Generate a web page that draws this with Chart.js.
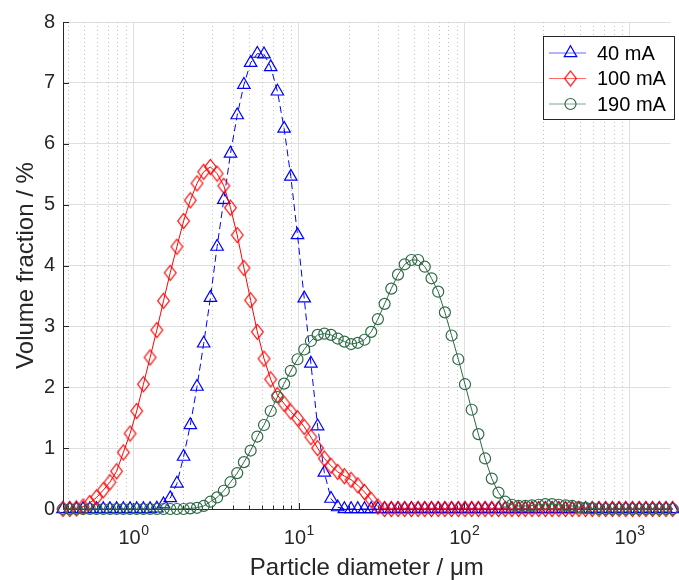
<!DOCTYPE html>
<html lang="en">
<head>
<meta charset="UTF-8">
<title>Particle size distribution</title>
<script src="https://cdn.jsdelivr.net/npm/chart.js"></script>
<style>
  html, body { margin: 0; padding: 0; background: #fff; overflow: hidden; }
  #wrap { width: 679px; height: 580px; }
</style>
</head>
<body>
<div id="wrap"><canvas id="psd" width="679" height="580"></canvas></div>
<script>
  // channel diameters (um)
  const diameters = [
    0.375, 0.412, 0.452, 0.496, 0.545, 0.598, 0.657, 0.721, 0.791, 0.869,
    0.954, 1.047, 1.149, 1.261, 1.385, 1.520, 1.669, 1.832, 2.010, 2.207,
    2.423, 2.660, 2.920, 3.205, 3.519, 3.862, 4.241, 4.656, 5.111, 5.611,
    6.159, 6.761, 7.422, 8.148, 8.944, 9.819, 10.78, 11.83, 12.99, 14.26,
    15.65, 17.18, 18.86, 20.71, 22.73, 24.95, 27.39, 30.07, 33.01, 36.24,
    39.78, 43.67, 47.94, 52.63, 57.77, 63.42, 69.62, 76.43, 83.90, 92.10,
    101.1, 111.0, 121.8, 133.7, 146.8, 161.2, 176.8, 194.2, 213.2, 234.0,
    256.9, 282.1, 309.6, 339.9, 373.1, 409.6, 449.7, 493.6, 541.9, 594.9,
    653.0, 716.9, 786.9, 863.9, 948.3, 1041, 1143, 1255, 1377, 1512,
    1660, 1822, 2000
  ];

  // volume fraction (%) per channel
  const vol40 = [
    0, 0, 0, 0, 0, 0, 0, 0, 0, 0,
    0, 0, 0, 0, 0.01, 0.08, 0.18, 0.42, 0.86, 1.38,
    2.01, 2.72, 3.47, 4.31, 5.08, 5.84, 6.47, 6.97, 7.33, 7.48,
    7.47, 7.26, 6.86, 6.25, 5.46, 4.50, 3.46, 2.39, 1.36, 0.60,
    0.17, 0.03, 0, 0, 0, 0, 0, 0, 0, 0,
    0, 0, 0, 0, 0, 0, 0, 0, 0, 0,
    0, 0, 0, 0, 0, 0, 0, 0, 0, 0,
    0, 0, 0, 0, 0, 0, 0, 0, 0, 0,
    0, 0, 0, 0, 0, 0, 0, 0, 0, 0,
    0, 0, 0
  ];
  const vol100 = [
    0, 0, 0.01, 0.04, 0.10, 0.19, 0.31, 0.44, 0.62, 0.93,
    1.24, 1.61, 2.05, 2.49, 2.94, 3.42, 3.88, 4.31, 4.73, 5.07,
    5.35, 5.54, 5.62, 5.51, 5.31, 4.95, 4.50, 3.96, 3.43, 2.91,
    2.47, 2.13, 1.87, 1.73, 1.60, 1.49, 1.35, 1.18, 1.00, 0.83,
    0.71, 0.61, 0.54, 0.48, 0.39, 0.28, 0.15, 0.04, 0, 0,
    0, 0, 0, 0, 0, 0, 0, 0, 0, 0,
    0, 0, 0, 0, 0, 0, 0, 0, 0, 0,
    0, 0, 0, 0, 0, 0, 0, 0, 0, 0,
    0, 0, 0, 0, 0, 0, 0, 0, 0, 0,
    0, 0, 0
  ];
  const vol190 = [
    0, 0, 0, 0, 0, 0, 0, 0, 0, 0,
    0, 0, 0, 0, 0, 0, 0, 0, 0, 0.01,
    0.02, 0.05, 0.12, 0.19, 0.30, 0.44, 0.59, 0.77, 0.96, 1.19,
    1.38, 1.61, 1.84, 2.06, 2.27, 2.46, 2.62, 2.76, 2.86, 2.88,
    2.86, 2.80, 2.75, 2.71, 2.73, 2.78, 2.91, 3.12, 3.37, 3.62,
    3.85, 4.02, 4.09, 4.09, 3.98, 3.79, 3.57, 3.23, 2.85, 2.46,
    2.05, 1.63, 1.23, 0.83, 0.50, 0.27, 0.12, 0.07, 0.05, 0.05,
    0.06, 0.07, 0.08, 0.08, 0.07, 0.06, 0.05, 0.03, 0.02, 0.01,
    0, 0, 0, 0, 0, 0, 0, 0, 0, 0,
    0, 0, 0
  ];

  const seriesLabels = ['40 mA', '100 mA', '190 mA'];
  const xDecades = [0.1, 1, 10, 100, 1000];
  const xMin = 0.375, xMax = 1770;
  const yMin = 0, yMax = 8;

  const textColor = '#262626';
  const fontFamily = '"Liberation Sans", Arial, Helvetica, sans-serif';
  const blue = '#0000ff', red = '#ff0000', green = '#2f6a46';

  const isDecade = v => Math.abs(Math.log10(v) - Math.round(Math.log10(v))) < 1e-6;

  // diamond marker a bit taller than wide, like the original
  function diamondMarker(color) {
    const c = document.createElement('canvas');
    c.width = 15; c.height = 18;
    const g = c.getContext('2d');
    g.strokeStyle = color;
    g.lineWidth = 1.2;
    g.beginPath();
    g.moveTo(7.5, 1.5);
    g.lineTo(13.3, 9);
    g.lineTo(7.5, 16.5);
    g.lineTo(1.7, 9);
    g.closePath();
    g.stroke();
    return c;
  }
  const diamond = diamondMarker(red);

  const toPoints = vals => diameters.map((d, i) => ({ x: d, y: vals[i] }));

  function drawLegendMarker(ctx, ds, x, y) {
    ctx.save();
    ctx.strokeStyle = ds.pointBorderColor;
    ctx.lineWidth = ds.pointBorderWidth;
    ctx.beginPath();
    if (ds.pointStyle === 'triangle') {
      const r = ds.pointRadius;
      for (let k = 0; k < 3; k++) {
        const a = k * 2 * Math.PI / 3;
        const px = x + Math.sin(a) * r, py = y - Math.cos(a) * r;
        k === 0 ? ctx.moveTo(px, py) : ctx.lineTo(px, py);
      }
      ctx.closePath();
      ctx.stroke();
    } else if (ds.pointStyle === 'circle') {
      ctx.arc(x, y, ds.pointRadius, 0, Math.PI * 2);
      ctx.stroke();
    } else {
      const img = ds.pointStyle;
      ctx.drawImage(img, x - img.width / 2, y - img.height / 2);
    }
    ctx.restore();
  }

  const axisDecor = {
    id: 'axisDecor',
    beforeDatasetsDraw(chart) {
      const { ctx, chartArea: a, scales: { x, y } } = chart;
      ctx.save();
      // dotted minor grid
      ctx.strokeStyle = '#bcbcbc';
      ctx.lineWidth = 1;
      ctx.setLineDash([1, 3]);
      x.ticks.forEach(t => {
        if (isDecade(t.value)) return;
        const px = Math.round(x.getPixelForValue(t.value)) + 0.5;
        ctx.beginPath();
        ctx.moveTo(px, a.top);
        ctx.lineTo(px, a.bottom);
        ctx.stroke();
      });
      ctx.setLineDash([]);
      // inward tick marks
      ctx.strokeStyle = textColor;
      x.ticks.forEach(t => {
        const px = Math.round(x.getPixelForValue(t.value)) + 0.5;
        const len = isDecade(t.value) ? 6 : 3.5;
        ctx.beginPath();
        ctx.moveTo(px, a.bottom);
        ctx.lineTo(px, a.bottom - len);
        ctx.stroke();
      });
      y.ticks.forEach(t => {
        const py = Math.round(y.getPixelForValue(t.value)) + 0.5;
        ctx.beginPath();
        ctx.moveTo(a.left, py);
        ctx.lineTo(a.left + 6, py);
        ctx.stroke();
      });
      // decade labels 10^n with a raised exponent
      ctx.fillStyle = textColor;
      ctx.textBaseline = 'alphabetic';
      ctx.textAlign = 'left';
      x.ticks.forEach(t => {
        if (!isDecade(t.value)) return;
        const px = x.getPixelForValue(t.value);
        const exp = String(Math.round(Math.log10(t.value)));
        ctx.font = '20px ' + fontFamily;
        const wBase = ctx.measureText('10').width;
        ctx.font = '14px ' + fontFamily;
        const wExp = ctx.measureText(exp).width;
        const x0 = px - (wBase + wExp) / 2;
        ctx.font = '20px ' + fontFamily;
        ctx.fillText('10', x0, a.bottom + 35);
        ctx.font = '14px ' + fontFamily;
        ctx.fillText(exp, x0 + wBase + 0.5, a.bottom + 26);
      });
      ctx.restore();
    },
    afterDraw(chart) {
      const { ctx } = chart;
      const box = { x: 543.5, y: 36.5, w: 131, h: 83 };
      ctx.save();
      ctx.fillStyle = '#fff';
      ctx.fillRect(box.x, box.y, box.w, box.h);
      ctx.strokeStyle = textColor;
      ctx.lineWidth = 1;
      ctx.strokeRect(box.x, box.y, box.w, box.h);
      ctx.font = '20px ' + fontFamily;
      ctx.textBaseline = 'middle';
      ctx.textAlign = 'left';
      chart.data.datasets.forEach((ds, i) => {
        const cy = 53 + i * 25.5;
        ctx.save();
        ctx.globalAlpha = 0.6;
        ctx.strokeStyle = ds.borderColor;
        ctx.lineWidth = 1;
        ctx.beginPath();
        ctx.moveTo(549, cy);
        ctx.lineTo(586, cy);
        ctx.stroke();
        ctx.restore();
        drawLegendMarker(ctx, ds, 570.5, cy);
        ctx.fillStyle = '#000';
        ctx.fillText(ds.label, 597, cy + 1);
      });
      ctx.restore();
    }
  };

  new Chart(document.getElementById('psd'), {
    type: 'line',
    data: {
      datasets: [
        {
          label: seriesLabels[0],
          data: toPoints(vol40),
          borderColor: blue,
          borderWidth: 1,
          borderDash: [7, 4],
          pointStyle: 'triangle',
          pointRadius: 7.2,
          pointBorderWidth: 1.2,
          pointBorderColor: blue,
          pointBackgroundColor: 'rgba(0,0,0,0)',
          order: 3,
          clip: false
        },
        {
          label: seriesLabels[1],
          data: toPoints(vol100),
          borderColor: red,
          borderWidth: 1,
          pointStyle: diamond,
          pointRadius: 6.5,
          pointBorderWidth: 1.2,
          pointBorderColor: red,
          pointBackgroundColor: 'rgba(0,0,0,0)',
          order: 2,
          clip: false
        },
        {
          label: seriesLabels[2],
          data: toPoints(vol190),
          borderColor: green,
          borderWidth: 1,
          pointStyle: 'circle',
          pointRadius: 5.5,
          pointBorderWidth: 1.2,
          pointBorderColor: green,
          pointBackgroundColor: 'rgba(0,0,0,0)',
          order: 1,
          clip: false
        }
      ]
    },
    options: {
      responsive: false,
      animation: false,
      devicePixelRatio: 1,
      layout: { padding: { top: 22, right: 0, left: 0, bottom: 0 } },
      plugins: { legend: { display: false }, tooltip: { enabled: false } },
      elements: { line: { tension: 0 } },
      scales: {
        x: {
          type: 'logarithmic',
          min: xMin,
          max: xMax,
          afterFit(scale) { scale.height = 71; },
          afterBuildTicks(scale) {
            const t = [];
            xDecades.forEach(d => {
              for (let m = 1; m <= 9; m++) {
                const v = +(d * m).toPrecision(6);
                if (v >= scale.min && v <= scale.max) t.push({ value: v });
              }
            });
            scale.ticks = t;
          },
          ticks: {
            autoSkip: false,
            maxRotation: 0,
            callback: () => ''
          },
          grid: {
            drawTicks: false,
            color: c => (c.tick && isDecade(c.tick.value)) ? '#dfdfdf' : 'rgba(0,0,0,0)',
            lineWidth: 1
          },
          border: { display: true, color: textColor, width: 1 },
          title: {
            display: true,
            text: 'Particle diameter / \u03BCm',
            color: textColor,
            font: { family: fontFamily, size: 24, lineHeight: 1 },
            padding: { top: 0, bottom: 0 }
          }
        },
        y: {
          type: 'linear',
          min: yMin,
          max: yMax,
          afterFit(scale) { scale.width = 63; },
          ticks: {
            stepSize: 1,
            padding: 8,
            color: textColor,
            font: { family: fontFamily, size: 20 }
          },
          grid: { drawTicks: false, color: '#dfdfdf', lineWidth: 1 },
          border: { display: true, color: textColor, width: 1 },
          title: {
            display: true,
            text: 'Volume fraction / %',
            color: textColor,
            font: { family: fontFamily, size: 24, lineHeight: 1 },
            padding: { top: 14, bottom: 0 }
          }
        }
      }
    },
    plugins: [axisDecor]
  });
</script>
</body>
</html>
